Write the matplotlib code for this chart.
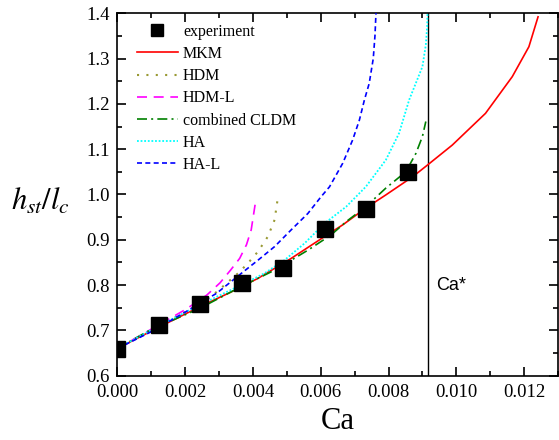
import matplotlib
matplotlib.use("Agg")
import matplotlib.pyplot as plt
from matplotlib.ticker import MultipleLocator, FormatStrFormatter

# ---------------- data ----------------
exp_ca = [0.0, 0.00122, 0.00245, 0.00367, 0.00490, 0.00612, 0.00735, 0.00857]
exp_h = [0.659, 0.711, 0.759, 0.805, 0.838, 0.924, 0.968, 1.050]

mkm_ca = [0.0, 0.00122, 0.00245, 0.00336, 0.00415, 0.00513, 0.00611, 0.00665, 0.00733,
          0.00792, 0.00871, 0.00915, 0.00988, 0.01086, 0.01165, 0.01214, 0.01241]
mkm_h = [0.660, 0.707, 0.753, 0.785, 0.815, 0.859, 0.907, 0.933, 0.970,
         0.999, 1.039, 1.065, 1.109, 1.179, 1.260, 1.326, 1.392]

hdm_ca = [0.0, 0.00122, 0.00245, 0.00293, 0.00356, 0.00385, 0.00415, 0.00444, 0.00464, 0.00474]
hdm_h = [0.660, 0.710, 0.759, 0.785, 0.826, 0.848, 0.874, 0.907, 0.944, 0.995]

hdml_ca = [0.0, 0.00122, 0.00203, 0.00264, 0.00303, 0.00334, 0.00361, 0.00381, 0.00395, 0.00407]
hdml_h = [0.660, 0.712, 0.747, 0.778, 0.805, 0.833, 0.859, 0.889, 0.922, 0.980]

cldm_ca = [0.0, 0.00097, 0.00244, 0.00366, 0.00464, 0.00562, 0.00631, 0.00675, 0.00733,
           0.00792, 0.00851, 0.00881, 0.00900, 0.00910]
cldm_h = [0.660, 0.701, 0.749, 0.797, 0.833, 0.877, 0.911, 0.940, 0.973,
          1.014, 1.050, 1.091, 1.128, 1.161]

ha_ca = [0.0, 0.00122, 0.00245, 0.00376, 0.00434, 0.00493, 0.00552, 0.00611, 0.00675,
         0.00733, 0.00792, 0.00831, 0.00861, 0.00900, 0.00910, 0.00914, 0.00915]
ha_h = [0.660, 0.710, 0.757, 0.804, 0.826, 0.855, 0.892, 0.936, 0.973,
        1.017, 1.076, 1.135, 1.209, 1.282, 1.330, 1.370, 1.400]

hal_ca = [0.0, 0.00097, 0.00195, 0.00293, 0.00366, 0.00415, 0.00464, 0.00513, 0.00562,
          0.00601, 0.00626, 0.00665, 0.00694, 0.00714, 0.00729, 0.00743, 0.00755, 0.00760, 0.00763]
hal_h = [0.660, 0.696, 0.738, 0.782, 0.826, 0.855, 0.885, 0.922, 0.958,
         0.995, 1.017, 1.069, 1.120, 1.164, 1.209, 1.245, 1.300, 1.350, 1.400]

ca_star = 0.00915
x_range = (0.0, 0.013)
y_range = (0.6, 1.4)

# ---------------- figure ----------------
plt.rcParams['font.family'] = ['Liberation Serif', 'DejaVu Serif']
plt.rcParams['mathtext.fontset'] = 'stix'

fig = plt.figure(figsize=(5.59, 4.40), dpi=100)
ax = fig.add_axes([0.2098, 0.146, 0.7885, 0.824])

lw = 1.2
ax.axvline(ca_star, color='black', lw=1.0, zorder=1)
ax.plot(mkm_ca, mkm_h, color='#ff0000', lw=lw, ls='-', label='MKM', zorder=3)
ax.plot(hdm_ca, hdm_h, color='#999933', lw=1.5, ls=(0, (1, 3.5)), label='HDM', zorder=3)
ax.plot(hdml_ca, hdml_h, color='#ff00ff', lw=lw, ls=(0, (6, 4)), label='HDM-L', zorder=3)
ax.plot(cldm_ca, cldm_h, color='#008000', lw=lw, ls=(0, (6, 2.5, 1.2, 2.5)), label='combined CLDM', zorder=3)
ax.plot(ha_ca, ha_h, color='#00ffff', lw=1.3, ls=(0, (1, 1)), label='HA', zorder=3)
ax.plot(hal_ca, hal_h, color='#0000ff', lw=lw, ls=(0, (3, 2)), label='HA-L', zorder=3)
ax.plot(exp_ca, exp_h, ls='none', marker='s', color='black', ms=11,
        label='experiment', zorder=4)

ax.text(0.00939, 0.80, 'Ca*', family=['Liberation Sans', 'DejaVu Sans'],
        fontsize=13, va='center', ha='left')

ax.set_xlim(*x_range)
ax.set_ylim(*y_range)
ax.xaxis.set_major_locator(MultipleLocator(0.002))
ax.xaxis.set_minor_locator(MultipleLocator(0.001))
ax.yaxis.set_major_locator(MultipleLocator(0.1))
ax.yaxis.set_minor_locator(MultipleLocator(0.05))
ax.xaxis.set_major_formatter(FormatStrFormatter('%.3f'))
ax.yaxis.set_major_formatter(FormatStrFormatter('%.1f'))
ax.tick_params(which='both', direction='in', top=True, right=True, labelsize=13.5, width=1.2)
ax.tick_params(which='major', length=6.5)
ax.tick_params(which='minor', length=3.5)
ax.tick_params(axis='x', which='major', pad=6)
ax.tick_params(axis='y', which='major', pad=5.5)
for s in ax.spines.values():
    s.set_linewidth(1.2)

ax.set_xlabel('Ca', fontsize=22, labelpad=4)
ax.set_ylabel(r'$h_{st}/l_{c}$', fontsize=22, rotation=0, ha='center', va='center')
ax.yaxis.set_label_coords(-0.175, 0.48)

handles, labels = ax.get_legend_handles_labels()
order = [labels.index(n) for n in ['experiment', 'MKM', 'HDM', 'HDM-L', 'combined CLDM', 'HA', 'HA-L']]
ax.legend([handles[i] for i in order], [labels[i] for i in order],
          loc='upper left', bbox_to_anchor=(0.044, 0.971), frameon=False,
          fontsize=11.5, handlelength=2.6, handletextpad=0.3, labelspacing=0.39,
          borderaxespad=0, borderpad=0, markerscale=0.8)

fig.savefig('out.png', dpi=100)
